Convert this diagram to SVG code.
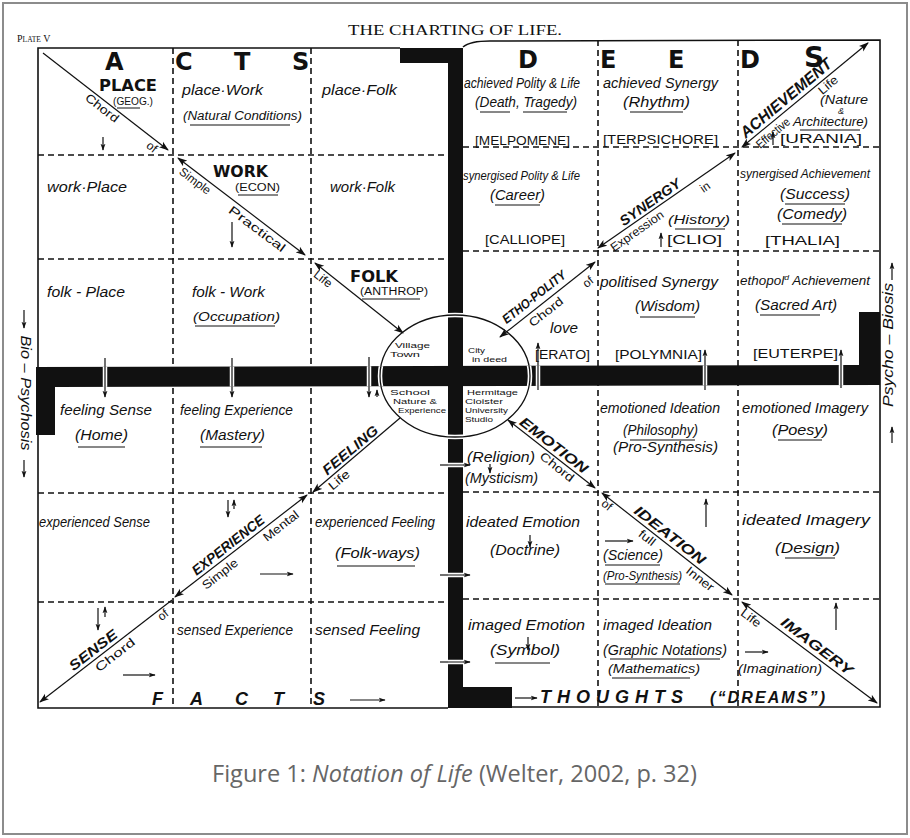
<svg xmlns="http://www.w3.org/2000/svg" width="910" height="838" viewBox="0 0 910 838">
<defs>
<style>
text{font-family:"Liberation Sans",Arial,sans-serif;fill:#111}
.hw{font-style:italic;font-size:14px}
.hs{font-style:italic;font-size:12.5px}
.big{font-family:"DejaVu Sans",sans-serif;font-weight:bold;font-size:24px}
.cap{font-family:"DejaVu Sans",sans-serif;font-weight:bold;font-size:15px}
.sm{font-size:10px}
.lab{font-size:12px;dominant-baseline:central;text-anchor:middle}
.muse{font-size:12px}
.dg{font-weight:bold;font-style:italic;font-size:14px;dominant-baseline:central;text-anchor:middle}
.ci{font-size:8px}
.side{font-style:italic;font-size:14px;dominant-baseline:central;text-anchor:middle}
.bot{font-weight:bold;font-style:italic;font-size:18px}
.frame{fill:none;stroke:#111;stroke-width:1.6}
.dash{fill:none;stroke:#111;stroke-width:1.6;stroke-dasharray:6 4}
.ar{fill:none;stroke:#111;stroke-width:1.2}
.ul{stroke:#111;stroke-width:1}
.bar{fill:#111}
</style>
<marker id="ah" viewBox="0 0 10 8" refX="9" refY="4" markerWidth="10" markerHeight="8" markerUnits="userSpaceOnUse" orient="auto-start-reverse"><path d="M0,0.5 L10,4 L0,7.5 L2.5,4Z" fill="#111"/></marker>
<marker id="sh" viewBox="0 0 10 8" refX="9" refY="4" markerWidth="7" markerHeight="6" markerUnits="userSpaceOnUse" orient="auto-start-reverse"><path d="M0,0.5 L10,4 L0,7.5 L2.5,4Z" fill="#111"/></marker>
<clipPath id="barclip">
<polygon points="36,367 859,365 859,312 880,312 880,385 55,387 55,435 36,435"/>
<polygon points="400,48 463,48 463,687 512,687 512,708 448,708 448,63 400,63"/>
</clipPath>
</defs>
<rect width="910" height="838" fill="#fff"/>
<rect x="3" y="3" width="904" height="831" fill="none" stroke="#8c8c8c" stroke-width="2"/>

<g id="title">
<text x="348" y="35" textLength="214" lengthAdjust="spacingAndGlyphs" style="font-family:'Liberation Serif',serif;font-size:15px">THE CHARTING OF LIFE.</text>
<text x="17" y="42" style="font-family:'Liberation Serif',serif;font-size:10px">P<tspan style="font-size:7.5px">LATE</tspan> V</text>
</g>

<g id="grid">
<path class="frame" d="M400,48 L38,48 L38,708 L448,708"/>
<path class="frame" d="M463,47 Q470,41 490,41 L880,40 L880,707 L512,707"/>
<path class="dash" d="M38,155 H447 M38,259 H447 M38,493 H447 M38,602 H447"/>
<path class="dash" d="M463,147 H880 M463,251 H880 M463,492 H880 M463,599 H880"/>
<path class="dash" d="M173,48 V708 M311,48 V708 M598,40 V707 M738,40 V707"/>
</g>

<g id="circle">
<ellipse cx="455" cy="376" rx="75" ry="61" fill="none" stroke="#111" stroke-width="1.3"/>
</g>

<g id="bars">
<polygon class="bar" points="36,367 859,365 859,312 880,312 880,385 55,387 55,435 36,435"/>
<polygon class="bar" points="400,48 463,48 463,687 512,687 512,708 448,708 448,63 400,63"/>
</g>

<g id="connectors">
<path class="ar" d="M43,53 L168,150" marker-end="url(#ah)"/>
<path class="ar" d="M178,158 L305,255" marker-start="url(#ah)" marker-end="url(#ah)"/>
<path class="ar" d="M315,263 L403,333" marker-start="url(#ah)" marker-end="url(#ah)"/>
<path class="ar" d="M400,418 L313,492" marker-end="url(#ah)"/>
<path class="ar" d="M307,495 L175,597" marker-start="url(#ah)" marker-end="url(#ah)"/>
<path class="ar" d="M172,600 L40,702" marker-end="url(#ah)"/>
<path class="ar" d="M595,262 L500,337" marker-start="url(#ah)" marker-end="url(#ah)"/>
<path class="ar" d="M598,248 L735,153" marker-start="url(#ah)" marker-end="url(#ah)"/>
<path class="ar" d="M742,147 L868,43" marker-start="url(#ah)" marker-end="url(#ah)"/>
<path class="ar" d="M508,420 L595,488" marker-start="url(#ah)" marker-end="url(#ah)"/>
<path class="ar" d="M602,493 L732,595" marker-start="url(#ah)" marker-end="url(#ah)"/>
<path class="ar" d="M742,602 L877,703" marker-start="url(#ah)" marker-end="url(#ah)"/>
<path class="ar" d="M105,358 V397" marker-end="url(#sh)"/>
<path class="ar" d="M232,358 V397" marker-end="url(#sh)"/>
<path class="ar" d="M369,357 V397" marker-end="url(#sh)"/>
<path class="ar" d="M377,397 V390" marker-end="url(#sh)"/>
<path class="ar" d="M538,390 V343" marker-end="url(#sh)"/>
<path class="ar" d="M705,390 V350" marker-end="url(#sh)"/>
<path class="ar" d="M841,388 V350" marker-end="url(#sh)"/>
<path class="ar" d="M440,465 H470" marker-end="url(#sh)"/>
<path class="ar" d="M440,575 H470" marker-end="url(#sh)"/>
<path class="ar" d="M440,662 H470" marker-end="url(#sh)"/>
<g clip-path="url(#barclip)">
<ellipse cx="455" cy="376" rx="75" ry="61" fill="none" stroke="#fff" stroke-width="4.5"/>
<ellipse cx="455" cy="376" rx="75" ry="61" fill="none" stroke="#111" stroke-width="1.3"/>
<path d="M105,358 V397 M232,358 V397 M369,357 V397 M538,390 V343 M705,390 V350 M841,388 V350 M440,465 H470 M440,575 H470 M440,662 H470" stroke="#fff" stroke-width="4.5"/>
<path d="M105,358 V397 M232,358 V397 M369,357 V397 M538,390 V343 M705,390 V350 M841,388 V350 M440,465 H470 M440,575 H470 M440,662 H470" stroke="#111" stroke-width="1.2"/>
</g>
<path class="ar" d="M103,137 V150" marker-end="url(#sh)"/>
<path class="ar" d="M232,222 V247" marker-end="url(#sh)"/>
<path class="ar" d="M228,500 V517" marker-end="url(#sh)"/>
<path class="ar" d="M234,509 V500" marker-end="url(#sh)"/>
<path class="ar" d="M98,608 V630" marker-end="url(#sh)"/>
<path class="ar" d="M105,617 V607" marker-end="url(#sh)"/>
<path class="ar" d="M123,675 H155" marker-end="url(#sh)"/>
<path class="ar" d="M260,574 H293" marker-end="url(#sh)"/>
<path class="ar" d="M350,700 H385" marker-end="url(#sh)"/>
<path class="ar" d="M490,464 V473" marker-end="url(#sh)"/>
<path class="ar" d="M530,535 V547" marker-end="url(#sh)"/>
<path class="ar" d="M528,637 V650" marker-end="url(#sh)"/>
<path class="ar" d="M605,541 H633" marker-end="url(#sh)"/>
<path class="ar" d="M706,527 V499" marker-end="url(#sh)"/>
<path class="ar" d="M745,652 H768" marker-end="url(#sh)"/>
<path class="ar" d="M836,630 V603" marker-end="url(#sh)"/>
<path class="ar" d="M515,698 H537" marker-end="url(#sh)"/>
<path class="ar" d="M773,145 V132" marker-end="url(#sh)"/>
<path class="ar" d="M661,247 V233" marker-end="url(#sh)"/>
<path class="ar" d="M24,310 V328" marker-end="url(#sh)"/>
<path class="ar" d="M24,460 V477" marker-end="url(#sh)"/>
<path class="ar" d="M892,280 V263" marker-end="url(#sh)"/>
<path class="ar" d="M892,443 V427" marker-end="url(#sh)"/>
</g>

<g id="headers">
<text class="big" x="105" y="70">A</text>
<text class="big" x="175" y="70">C</text>
<text class="big" x="234" y="70">T</text>
<text class="big" x="292" y="70">S</text>
<text class="big" x="518" y="68">D</text>
<text class="big" x="600" y="68">E</text>
<text class="big" x="668" y="68">E</text>
<text class="big" x="740" y="68">D</text>
<text class="big" x="804" y="67" style="font-size:28px">S</text>
</g>

<g id="cell-place">
<text class="cap" x="99" y="91" textLength="58" lengthAdjust="spacingAndGlyphs">PLACE</text>
<text class="sm" x="113" y="105" textLength="40" lengthAdjust="spacingAndGlyphs">(GEOG.)</text>
<line class="ul" x1="117" y1="108" x2="140" y2="108"/>
<text class="lab" transform="translate(102,108) rotate(38)" textLength="39" lengthAdjust="spacingAndGlyphs">Chord</text>
<text class="lab" transform="translate(152,147) rotate(38)">of</text>
</g>
<g id="cell-place-work">
<text class="hw" x="182" y="95" textLength="81" lengthAdjust="spacingAndGlyphs">place·Work</text>
<text class="hs" x="183" y="120" textLength="119" lengthAdjust="spacingAndGlyphs">(Natural Conditions)</text>
<line class="ul" x1="190" y1="125" x2="290" y2="125"/>
</g>
<g id="cell-place-folk"><text class="hw" x="322" y="95" textLength="75" lengthAdjust="spacingAndGlyphs">place·Folk</text></g>
<g id="cell-work-place"><text class="hw" x="47" y="192" textLength="80" lengthAdjust="spacingAndGlyphs">work·Place</text></g>
<g id="cell-work">
<text class="cap" x="213" y="177" textLength="55" lengthAdjust="spacingAndGlyphs">WORK</text>
<text class="sm" x="235" y="191" textLength="45" lengthAdjust="spacingAndGlyphs">(ECON)</text>
<line class="ul" x1="238" y1="195" x2="278" y2="195"/>
<text class="lab" transform="translate(195,181) rotate(37)" textLength="36" lengthAdjust="spacingAndGlyphs">Simple</text>
<text class="lab" transform="translate(257,229) rotate(37)" textLength="68" lengthAdjust="spacingAndGlyphs">Practical</text>
</g>
<g id="cell-work-folk"><text class="hw" x="330" y="192" textLength="65" lengthAdjust="spacingAndGlyphs">work·Folk</text></g>
<g id="cell-folk-place"><text class="hw" x="47" y="297" textLength="78" lengthAdjust="spacingAndGlyphs">folk - Place</text></g>
<g id="cell-folk-work">
<text class="hw" x="192" y="297" textLength="73" lengthAdjust="spacingAndGlyphs">folk - Work</text>
<text class="hs" x="193" y="321" textLength="87" lengthAdjust="spacingAndGlyphs">(Occupation)</text>
<line class="ul" x1="195" y1="326" x2="275" y2="326"/>
</g>
<g id="cell-folk">
<text class="cap" x="350" y="282" textLength="48" lengthAdjust="spacingAndGlyphs">FOLK</text>
<text class="sm" x="360" y="295" textLength="68" lengthAdjust="spacingAndGlyphs">(ANTHROP)</text>
<line class="ul" x1="362" y1="299" x2="420" y2="299"/>
<text class="lab" transform="translate(323,279) rotate(38)" textLength="20" lengthAdjust="spacingAndGlyphs">Life</text>
</g>
<g id="cell-centre">
<text class="ci" x="395" y="348" textLength="35" lengthAdjust="spacingAndGlyphs">Village</text>
<text class="ci" x="390" y="357" textLength="30" lengthAdjust="spacingAndGlyphs">Town</text>
<text class="ci" x="468" y="353" textLength="17" lengthAdjust="spacingAndGlyphs">City</text>
<text class="ci" x="472" y="362" textLength="35" lengthAdjust="spacingAndGlyphs">in deed</text>
<text class="ci" x="390" y="395" textLength="40" lengthAdjust="spacingAndGlyphs">School</text>
<text class="ci" x="393" y="404" textLength="44" lengthAdjust="spacingAndGlyphs">Nature &amp;</text>
<text class="ci" x="398" y="413" textLength="48" lengthAdjust="spacingAndGlyphs">Experience</text>
<text class="ci" x="467" y="395" textLength="51" lengthAdjust="spacingAndGlyphs">Hermitage</text>
<text class="ci" x="465" y="404" textLength="38" lengthAdjust="spacingAndGlyphs">Cloister</text>
<text class="ci" x="465" y="413" textLength="43" lengthAdjust="spacingAndGlyphs">University</text>
<text class="ci" x="465" y="422" textLength="28" lengthAdjust="spacingAndGlyphs">Studio</text>
</g>
<g id="cell-feeling-sense">
<text class="hw" x="60" y="415" textLength="92" lengthAdjust="spacingAndGlyphs">feeling Sense</text>
<text class="hw" x="75" y="440" textLength="53" lengthAdjust="spacingAndGlyphs">(Home)</text>
<line class="ul" x1="78" y1="447" x2="125" y2="447"/>
</g>
<g id="cell-feeling-experience">
<text class="hw" x="180" y="415" textLength="113" lengthAdjust="spacingAndGlyphs">feeling Experience</text>
<text class="hw" x="200" y="440" textLength="65" lengthAdjust="spacingAndGlyphs">(Mastery)</text>
<line class="ul" x1="200" y1="447" x2="262" y2="447"/>
</g>
<g id="cell-feeling">
<text class="dg" transform="translate(350,450) rotate(-40)" textLength="68" lengthAdjust="spacingAndGlyphs">FEELING</text>
<text class="lab" transform="translate(339,480) rotate(-40)" textLength="24" lengthAdjust="spacingAndGlyphs">Life</text>
</g>
<g id="cell-experienced-sense"><text class="hw" x="39" y="527" textLength="111" lengthAdjust="spacingAndGlyphs">experienced Sense</text></g>
<g id="cell-experience">
<text class="dg" transform="translate(228,545) rotate(-38)" textLength="88" lengthAdjust="spacingAndGlyphs">EXPERIENCE</text>
<text class="lab" transform="translate(220,574) rotate(-38)" textLength="42" lengthAdjust="spacingAndGlyphs">Simple</text>
<text class="lab" transform="translate(281,526) rotate(-38)" textLength="42" lengthAdjust="spacingAndGlyphs">Mental</text>
</g>
<g id="cell-experienced-feeling">
<text class="hw" x="315" y="527" textLength="120" lengthAdjust="spacingAndGlyphs">experienced Feeling</text>
<text class="hw" x="335" y="558" textLength="85" lengthAdjust="spacingAndGlyphs">(Folk-ways)</text>
<line class="ul" x1="337" y1="566" x2="415" y2="566"/>
</g>
<g id="cell-sense">
<text class="dg" transform="translate(93,650) rotate(-38)" textLength="57" lengthAdjust="spacingAndGlyphs">SENSE</text>
<text class="lab" transform="translate(115,655) rotate(-38)" textLength="47" lengthAdjust="spacingAndGlyphs">Chord</text>
<text class="lab" transform="translate(163,615) rotate(-38)">of</text>
</g>
<g id="cell-sensed-experience"><text class="hw" x="177" y="635" textLength="116" lengthAdjust="spacingAndGlyphs">sensed Experience</text></g>
<g id="cell-sensed-feeling"><text class="hw" x="315" y="635" textLength="105" lengthAdjust="spacingAndGlyphs">sensed Feeling</text></g>
<g id="facts">
<text class="bot" x="152" y="705">F</text>
<text class="bot" x="190" y="705">A</text>
<text class="bot" x="235" y="705">C</text>
<text class="bot" x="273" y="705">T</text>
<text class="bot" x="313" y="705">S</text>
</g>

<g id="cell-achieved-polity">
<text class="hw" x="464" y="88" textLength="116" lengthAdjust="spacingAndGlyphs">achieved Polity &amp; Life</text>
<text class="hw" x="475" y="107" textLength="102" lengthAdjust="spacingAndGlyphs">(Death, Tragedy)</text>
<line class="ul" x1="480" y1="112" x2="510" y2="112"/>
<line class="ul" x1="523" y1="112" x2="567" y2="112"/>
<text class="muse" x="475" y="145" textLength="95" lengthAdjust="spacingAndGlyphs">[MELPOMENE]</text>
</g>
<g id="cell-achieved-synergy">
<text class="hw" x="603" y="88" textLength="115" lengthAdjust="spacingAndGlyphs">achieved Synergy</text>
<text class="hw" x="623" y="107" textLength="67" lengthAdjust="spacingAndGlyphs">(Rhythm)</text>
<line class="ul" x1="630" y1="112" x2="683" y2="112"/>
<text class="muse" x="603" y="144" textLength="115" lengthAdjust="spacingAndGlyphs">[TERPSICHORE]</text>
</g>
<g id="cell-achievement">
<text class="dg" transform="translate(786,98) rotate(-40)" textLength="114" lengthAdjust="spacingAndGlyphs" style="font-size:16px">ACHIEVEMENT</text>
<text class="lab" transform="translate(773,133) rotate(-40)" textLength="40" lengthAdjust="spacingAndGlyphs">Effective</text>
<text class="lab" transform="translate(828,85) rotate(-40)" textLength="22" lengthAdjust="spacingAndGlyphs">Life</text>
<text class="hs" x="820" y="104" textLength="48" lengthAdjust="spacingAndGlyphs">(Nature</text>
<text class="hs" x="838" y="114" style="font-size:9px">&amp;</text>
<text class="hs" x="793" y="126" textLength="75" lengthAdjust="spacingAndGlyphs">Architecture)</text>
<line class="ul" x1="800" y1="130" x2="860" y2="130"/>
<text class="muse" x="780" y="143" textLength="82" lengthAdjust="spacingAndGlyphs">[URANIA]</text>
</g>
<g id="cell-synergised-polity">
<text class="hs" x="463" y="180" textLength="117" lengthAdjust="spacingAndGlyphs">synergised Polity &amp; Life</text>
<text class="hw" x="490" y="200" textLength="55" lengthAdjust="spacingAndGlyphs">(Career)</text>
<line class="ul" x1="495" y1="205" x2="540" y2="205"/>
<text class="muse" x="485" y="244" textLength="80" lengthAdjust="spacingAndGlyphs">[CALLIOPE]</text>
</g>
<g id="cell-synergy">
<text class="dg" transform="translate(650,202) rotate(-35)" textLength="71" lengthAdjust="spacingAndGlyphs">SYNERGY</text>
<text class="lab" transform="translate(705,187) rotate(-35)">in</text>
<text class="lab" transform="translate(637,231) rotate(-35)" textLength="62" lengthAdjust="spacingAndGlyphs">Expression</text>
<text class="hs" x="668" y="224" textLength="62" lengthAdjust="spacingAndGlyphs">(History)</text>
<line class="ul" x1="675" y1="229" x2="725" y2="229"/>
<text class="muse" x="667" y="244" textLength="55" lengthAdjust="spacingAndGlyphs">[CLIO]</text>
</g>
<g id="cell-synergised-achievement">
<text class="hs" x="740" y="178" textLength="130" lengthAdjust="spacingAndGlyphs">synergised Achievement</text>
<text class="hw" x="780" y="199" textLength="70" lengthAdjust="spacingAndGlyphs">(Success)</text>
<line class="ul" x1="785" y1="204" x2="845" y2="204"/>
<text class="hw" x="777" y="219" textLength="70" lengthAdjust="spacingAndGlyphs">(Comedy)</text>
<line class="ul" x1="782" y1="224" x2="842" y2="224"/>
<text class="muse" x="765" y="245" textLength="75" lengthAdjust="spacingAndGlyphs">[THALIA]</text>
</g>
<g id="cell-etho-polity">
<text class="dg" transform="translate(534,297) rotate(-38)" textLength="77" lengthAdjust="spacingAndGlyphs" style="font-size:13px">ETHO-POLITY</text>
<text class="lab" transform="translate(546,312) rotate(-38)" textLength="40" lengthAdjust="spacingAndGlyphs">Chord</text>
<text class="lab" transform="translate(588,282) rotate(-38)">of</text>
<text class="hw" x="550" y="333" textLength="28" lengthAdjust="spacingAndGlyphs">love</text>
<text class="muse" x="535" y="359" textLength="55" lengthAdjust="spacingAndGlyphs">[ERATO]</text>
</g>
<g id="cell-politised-synergy">
<text class="hw" x="600" y="287" textLength="118" lengthAdjust="spacingAndGlyphs">politised Synergy</text>
<text class="hw" x="635" y="311" textLength="65" lengthAdjust="spacingAndGlyphs">(Wisdom)</text>
<line class="ul" x1="640" y1="317" x2="695" y2="317"/>
<text class="muse" x="615" y="359" textLength="87" lengthAdjust="spacingAndGlyphs">[POLYMNIA]</text>
</g>
<g id="cell-ethopol-achievement">
<text class="hs" x="740" y="285" textLength="130" lengthAdjust="spacingAndGlyphs">ethopol<tspan dy="-5" style="font-size:8px">d</tspan><tspan dy="5"> Achievement</tspan></text>
<text class="hw" x="755" y="310" textLength="82" lengthAdjust="spacingAndGlyphs">(Sacred Art)</text>
<line class="ul" x1="760" y1="315" x2="820" y2="315"/>
<text class="muse" x="753" y="358" textLength="85" lengthAdjust="spacingAndGlyphs">[EUTERPE]</text>
</g>
<g id="cell-emotion">
<text class="dg" transform="translate(554,445) rotate(38)" textLength="82" lengthAdjust="spacingAndGlyphs">EMOTION</text>
<text class="lab" transform="translate(557,467) rotate(38)" textLength="40" lengthAdjust="spacingAndGlyphs">Chord</text>
<text class="hw" x="467" y="462" textLength="68" lengthAdjust="spacingAndGlyphs">(Religion)</text>
<text class="hw" x="465" y="483" textLength="73" lengthAdjust="spacingAndGlyphs">(Mysticism)</text>
</g>
<g id="cell-emotioned-ideation">
<text class="hw" x="600" y="413" textLength="120" lengthAdjust="spacingAndGlyphs">emotioned Ideation</text>
<text class="hw" x="623" y="435" textLength="75" lengthAdjust="spacingAndGlyphs">(Philosophy)</text>
<line class="ul" x1="630" y1="440" x2="695" y2="440"/>
<text class="hw" x="613" y="452" textLength="105" lengthAdjust="spacingAndGlyphs">(Pro-Synthesis)</text>
</g>
<g id="cell-emotioned-imagery">
<text class="hw" x="742" y="413" textLength="126" lengthAdjust="spacingAndGlyphs">emotioned Imagery</text>
<text class="hw" x="772" y="435" textLength="56" lengthAdjust="spacingAndGlyphs">(Poesy)</text>
<line class="ul" x1="778" y1="440" x2="822" y2="440"/>
</g>
<g id="cell-ideated-emotion">
<text class="hw" x="466" y="527" textLength="114" lengthAdjust="spacingAndGlyphs">ideated Emotion</text>
<text class="hw" x="490" y="555" textLength="70" lengthAdjust="spacingAndGlyphs">(Doctrine)</text>
</g>
<g id="cell-ideation">
<text class="lab" transform="translate(607,505) rotate(38)">of</text>
<text class="dg" transform="translate(670,535) rotate(38)" textLength="86" lengthAdjust="spacingAndGlyphs">IDEATION</text>
<text class="lab" transform="translate(647,538) rotate(38)" textLength="18" lengthAdjust="spacingAndGlyphs">full</text>
<text class="lab" transform="translate(700,579) rotate(38)" textLength="32" lengthAdjust="spacingAndGlyphs">Inner</text>
<text class="hw" x="603" y="560" textLength="60" lengthAdjust="spacingAndGlyphs">(Science)</text>
<line class="ul" x1="605" y1="565" x2="660" y2="565"/>
<text class="hs" x="603" y="580" textLength="79" lengthAdjust="spacingAndGlyphs">(Pro-Synthesis)</text>
<line class="ul" x1="605" y1="584" x2="680" y2="584"/>
</g>
<g id="cell-ideated-imagery">
<text class="hw" x="742" y="525" textLength="128" lengthAdjust="spacingAndGlyphs">ideated Imagery</text>
<text class="hw" x="775" y="553" textLength="65" lengthAdjust="spacingAndGlyphs">(Design)</text>
<line class="ul" x1="785" y1="558" x2="835" y2="558"/>
</g>
<g id="cell-imaged-emotion">
<text class="hw" x="468" y="630" textLength="117" lengthAdjust="spacingAndGlyphs">imaged Emotion</text>
<text class="hw" x="490" y="655" textLength="70" lengthAdjust="spacingAndGlyphs">(Symbol)</text>
<line class="ul" x1="495" y1="663" x2="550" y2="663"/>
</g>
<g id="cell-imaged-ideation">
<text class="hw" x="603" y="630" textLength="109" lengthAdjust="spacingAndGlyphs">imaged Ideation</text>
<text class="hw" x="603" y="655" textLength="124" lengthAdjust="spacingAndGlyphs">(Graphic Notations)</text>
<line class="ul" x1="610" y1="659" x2="720" y2="659"/>
<text class="hs" x="608" y="673" textLength="92" lengthAdjust="spacingAndGlyphs">(Mathematics)</text>
<line class="ul" x1="612" y1="678" x2="690" y2="678"/>
</g>
<g id="cell-imagery">
<text class="lab" transform="translate(751,618) rotate(37)" textLength="22" lengthAdjust="spacingAndGlyphs">Life</text>
<text class="dg" transform="translate(817,646) rotate(37)" textLength="86" lengthAdjust="spacingAndGlyphs">IMAGERY</text>
<text class="hs" x="738" y="673" textLength="84" lengthAdjust="spacingAndGlyphs">(Imagination)</text>
</g>
<g id="thoughts">
<text class="bot" x="540" y="703" textLength="143" lengthAdjust="spacing" style="font-size:18px">THOUGHTS</text>
<text class="bot" x="710" y="703" textLength="115" lengthAdjust="spacing" style="font-size:16px">(“DREAMS”)</text>
</g>

<g id="sides">
<text class="side" transform="translate(26,393) rotate(90)" textLength="115" lengthAdjust="spacingAndGlyphs">Bio – Psychosis</text>
<text class="side" transform="translate(888,345) rotate(-90)" textLength="124" lengthAdjust="spacingAndGlyphs">Psycho – Biosis</text>
</g>

<g id="caption">
<text x="212" y="782" textLength="485" lengthAdjust="spacingAndGlyphs" style="font-family:'Open Sans',sans-serif;font-size:24px;fill:#666">Figure 1: <tspan style="font-style:italic">Notation of Life</tspan> (Welter, 2002, p. 32)</text>
</g>
</svg>
